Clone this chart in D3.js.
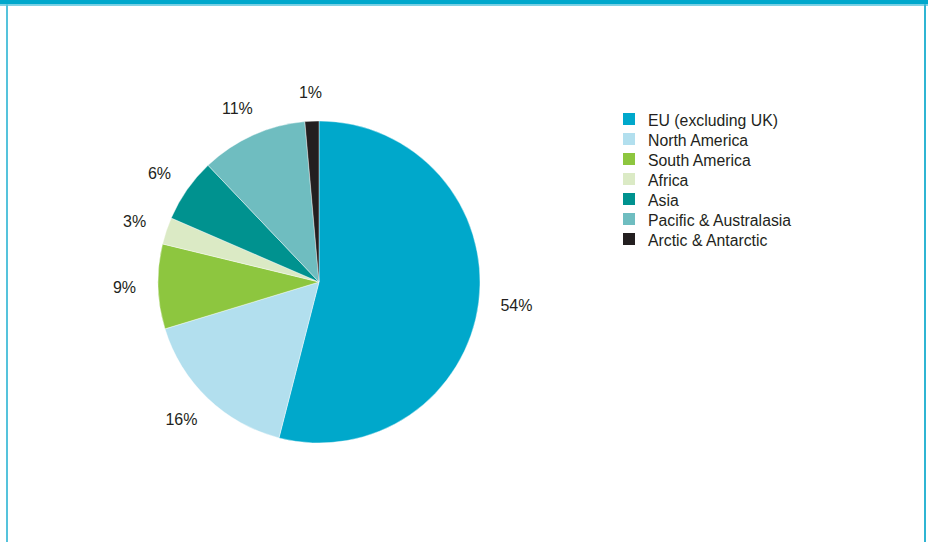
<!DOCTYPE html>
<html>
<head>
<meta charset="utf-8">
<script src="https://cdn.jsdelivr.net/npm/d3@7/dist/d3.min.js"></script>
<style>
  html, body { margin: 0; padding: 0; background: #ffffff; }
  svg { display: block; }
  text { font-family: "Liberation Sans", Arial, Helvetica, sans-serif; fill: #231f20; }
</style>
</head>
<body>
<svg id="chart" width="928" height="542"></svg>
<script>
// Share of activity by region (percent)
const regions = ["EU (excluding UK)", "North America", "South America", "Africa", "Asia", "Pacific & Australasia", "Arctic & Antarctic"];
const shares = [54.0, 16.3, 8.5, 2.7, 6.4, 10.7, 1.4];
const colors = ["#00a8cb", "#b2dfee", "#8dc63f", "#dbeac5", "#00928f", "#6fbdc0", "#231f20"];

const W = 928, H = 542;
const svg = d3.select("#chart");

// Panel frame: heavy top rule with a lighter inner line, thin side rules
svg.append("rect").attr("x", 0).attr("y", 0).attr("width", W).attr("height", 4.3).attr("fill", "#00a8cc");
svg.append("rect").attr("x", 0).attr("y", 4.3).attr("width", W).attr("height", 1.5).attr("fill", "#62c8de");
svg.append("rect").attr("x", 6).attr("y", 4.3).attr("width", 2).attr("height", H).attr("fill", "#55c3dc");
svg.append("rect").attr("x", 924).attr("y", 4.3).attr("width", 2).attr("height", H).attr("fill", "#2fb5d3");

// Pie
const cx = 319, cy = 282, R = 161, gap = 22;
const data = regions.map((name, i) => ({ name, value: shares[i], color: colors[i] }));
const pie = d3.pie().value(d => d.value).sort(null);
const arc = d3.arc().innerRadius(0).outerRadius(R);
const arcs = pie(data);

const g = svg.append("g").attr("transform", `translate(${cx},${cy})`);
g.selectAll("path.slice")
  .data(arcs)
  .join("path")
  .attr("class", "slice")
  .attr("d", arc)
  .attr("fill", d => d.data.color)
  .attr("stroke", "#ffffff")
  .attr("stroke-width", 0.4);

// Percentage labels, placed just outside the rim along each slice's mid-angle
const labels = g.selectAll("text.pct")
  .data(arcs)
  .join("text")
  .attr("class", "pct")
  .attr("font-size", 16)
  .attr("text-anchor", "middle")
  .attr("dominant-baseline", "central")
  .text(d => Math.round(d.data.value) + "%");

labels.each(function(d) {
  const a = (d.startAngle + d.endAngle) / 2;
  const s = Math.sin(a), c = -Math.cos(a);
  const hw = this.getComputedTextLength() / 2;
  const hh = 7;
  const x = (R + gap) * s + hw * s;
  const y = (R + gap) * c + hh * c;
  d3.select(this).attr("x", x).attr("y", y);
});

// Legend
const legend = svg.append("g").attr("transform", "translate(623,113)");
const rows = legend.selectAll("g.row")
  .data(data)
  .join("g")
  .attr("class", "row")
  .attr("transform", (d, i) => `translate(0,${i * 20})`);
rows.append("rect")
  .attr("width", 12)
  .attr("height", 12)
  .attr("fill", d => d.color);
rows.append("text")
  .attr("x", 25)
  .attr("y", 12.5)
  .attr("font-size", 15.8)
  .text(d => d.name);
</script>
</body>
</html>
